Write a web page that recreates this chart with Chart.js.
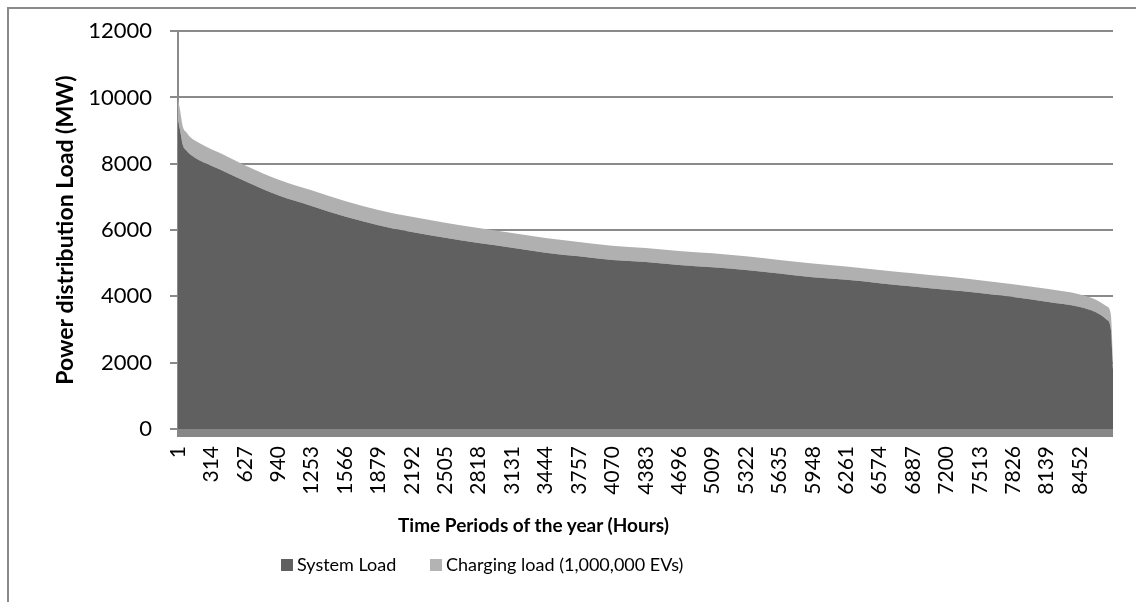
<!DOCTYPE html>
<html>
<head>
<meta charset="utf-8">
<script src="https://cdn.jsdelivr.net/npm/chart.js@4/dist/chart.umd.min.js"></script>
<style>
  body { margin: 0; background: #fff; }
  #wrap { position: relative; width: 1136px; height: 602px; overflow: hidden; }
  #frame { position: absolute; left: 7px; top: 7px; width: 1140px; height: 600px;
           border-top: 2px solid #8a8a8a; border-left: 2px solid #8a8a8a; }
  canvas { position: absolute; left: 0; top: 0; }
  .txt { position: absolute; font-family: Lato, sans-serif; color: #000; white-space: nowrap; line-height: 22px; }
  #xTitle { left: 398px; top: 514px; font-size: 19px; font-weight: bold; }
  .key { position: absolute; width: 12px; height: 12px; top: 559px; }
</style>
</head>
<body>
<div id="wrap">
  <div id="frame"></div>
  <canvas id="loadChart" width="1136" height="602"></canvas>
  <div class="txt" id="xTitle">Time Periods of the year (Hours)</div>
  <div class="key" style="left:281px; background:#606060;"></div>
  <div class="txt" style="left:297px; top:553px; font-size:18px;">System Load</div>
  <div class="key" style="left:430px; background:#b3b3b3;"></div>
  <div class="txt" style="left:446px; top:553px; font-size:18px;">Charging load (1,000,000 EVs)</div>
</div>
<script>
const hours = [1, 20, 48, 80, 120, 200, 313, 400, 626, 939, 1252, 1565, 1878, 2191, 2504, 2817,
  3130, 3443, 3756, 4069, 4382, 4695, 5008, 5321, 5634, 5947, 6260, 6573, 6886, 7199, 7512,
  7825, 8138, 8451, 8600, 8700, 8740, 8760];

// MW
const systemLoad = [9280, 9020, 8550, 8400, 8270, 8110, 7940, 7820, 7480, 7050, 6730, 6410, 6150,
  5940, 5770, 5610, 5470, 5320, 5210, 5100, 5040, 4950, 4880, 4800, 4690, 4580, 4500, 4400,
  4300, 4200, 4100, 3980, 3840, 3680, 3520, 3300, 3000, 1800];

const chargingLoad = [700, 600, 550, 550, 520, 520, 500, 500, 480, 480, 470, 470, 460, 460, 450,
  450, 440, 440, 430, 430, 420, 420, 420, 410, 410, 410, 400, 400, 400, 400, 390, 390, 390,
  380, 380, 400, 450, 300];

// x axis labels shown in the original (every 313th hour)
const tickHours = [1, 314, 627, 940, 1253, 1566, 1879, 2192, 2505, 2818, 3131, 3444, 3757, 4070,
  4383, 4696, 5009, 5322, 5635, 5948, 6261, 6574, 6887, 7200, 7513, 7826, 8139, 8452];

const seriesNames = ['System Load', 'Charging load (1,000,000 EVs)'];

// thick grey floor under the plot, like the excel axis
const floorBand = {
  id: 'floorBand',
  afterDatasetsDraw(chart) {
    const { ctx, chartArea } = chart;
    ctx.save();
    ctx.fillStyle = '#878787';
    ctx.fillRect(chartArea.left - 1, chartArea.bottom, chartArea.right - chartArea.left + 1, 8);
    ctx.restore();
  }
};

const toPoints = vals => vals.map((v, i) => ({ x: hours[i], y: v }));

const ctx = document.getElementById('loadChart').getContext('2d');
const loadChart = new Chart(ctx, {
  type: 'line',
  data: {
    datasets: [{
      label: seriesNames[0],
      data: toPoints(systemLoad),
      backgroundColor: '#606060',
      borderWidth: 0,
      pointRadius: 0,
      fill: 'origin',
      cubicInterpolationMode: 'monotone'
    }, {
      label: seriesNames[1],
      data: toPoints(chargingLoad),
      backgroundColor: '#b0b0b0',
      borderWidth: 0,
      pointRadius: 0,
      fill: '-1',
      cubicInterpolationMode: 'monotone'
    }]
  },
  plugins: [floorBand],
  options: {
    responsive: false,
    animation: false,
    layout: { padding: { top: 31, right: 23, bottom: 83, left: 0 } },
    plugins: {
      legend: { display: false },
      tooltip: { enabled: false }
    },
    scales: {
      x: {
        type: 'linear',
        min: 1,
        max: 8760,
        grid: { display: false, drawTicks: false },
        border: { display: false },
        afterBuildTicks: scale => {
          scale.ticks = tickHours.map(h => ({ value: h }));
        },
        afterFit: scale => { scale.height = 90; },
        ticks: {
          autoSkip: false,
          minRotation: 90,
          maxRotation: 90,
          padding: 17,
          color: '#000',
          font: { family: 'Lato', size: 21 },
          callback: v => String(v)
        }
      },
      y: {
        stacked: true,
        min: 0,
        max: 12000,
        afterFit: scale => { scale.width = 178; },
        grid: { color: '#8a8a8a', lineWidth: 2, tickLength: 8, tickColor: '#8a8a8a' },
        border: { display: true, color: '#8a8a8a', width: 2 },
        ticks: {
          stepSize: 2000,
          padding: 18,
          color: '#000',
          font: { family: 'Lato', size: 22 },
          callback: v => String(v)
        },
        title: {
          display: true,
          text: 'Power distribution Load (MW)',
          color: '#000',
          font: { family: 'Lato', size: 23, weight: 'bold' },
          padding: { top: 52, bottom: 0 }
        }
      }
    }
  }
});
</script>
</body>
</html>
